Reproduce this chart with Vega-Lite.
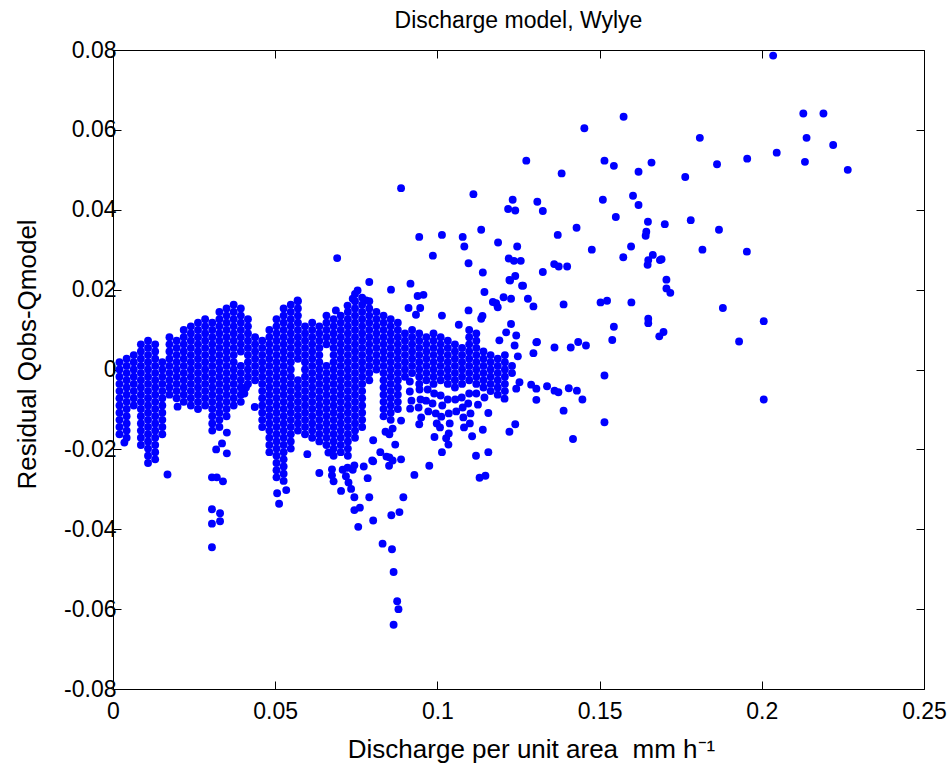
{
"$schema": "https://vega.github.io/schema/vega-lite/v6.json",
"width": 811, "height": 639,
"autosize": {"type": "none"},
"padding": {"left": 113, "top": 50, "right": 27, "bottom": 78},
"background": "white",
"title": {"text": "Discharge model, Wylye", "fontSize": 23, "font": "Liberation Sans", "fontWeight": "normal", "color": "black", "anchor": "middle", "baseline": "alphabetic", "offset": 18, "dy": 30},
"data": {"values": [
{"q":0.002,"r":-0.0162},{"q":0.002,"r":-0.0144},{"q":0.002,"r":-0.0126},{"q":0.002,"r":-0.0108},{"q":0.002,"r":-0.009},{"q":0.002,"r":-0.0072},{"q":0.002,"r":-0.0054},{"q":0.002,"r":-0.0036},{"q":0.002,"r":-0.0018},{"q":0.002,"r":0},{"q":0.002,"r":0.0018},
{"q":0.0042,"r":-0.0171},{"q":0.0042,"r":-0.0153},{"q":0.0042,"r":-0.0135},{"q":0.0042,"r":-0.0117},{"q":0.0042,"r":-0.0099},{"q":0.0042,"r":-0.0081},{"q":0.0042,"r":-0.0063},{"q":0.0042,"r":-0.0045},{"q":0.0042,"r":-0.0027},{"q":0.0042,"r":-0.0009},{"q":0.0042,"r":0.0009},{"q":0.0042,"r":0.0027},
{"q":0.0064,"r":-0.009},{"q":0.0064,"r":-0.0072},{"q":0.0064,"r":-0.0054},{"q":0.0064,"r":-0.0036},{"q":0.0064,"r":-0.0018},{"q":0.0064,"r":0},{"q":0.0064,"r":0.0018},{"q":0.0064,"r":0.0036},
{"q":0.0086,"r":-0.0189},{"q":0.0086,"r":-0.0171},{"q":0.0086,"r":-0.0153},{"q":0.0086,"r":-0.0135},{"q":0.0086,"r":-0.0117},{"q":0.0086,"r":-0.0099},{"q":0.0086,"r":-0.0081},{"q":0.0086,"r":-0.0063},{"q":0.0086,"r":-0.0045},{"q":0.0086,"r":-0.0027},{"q":0.0086,"r":-0.0009},{"q":0.0086,"r":0.0009},{"q":0.0086,"r":0.0027},{"q":0.0086,"r":0.0045},{"q":0.0086,"r":0.0063},
{"q":0.0108,"r":-0.0234},{"q":0.0108,"r":-0.0216},{"q":0.0108,"r":-0.0198},{"q":0.0108,"r":-0.018},{"q":0.0108,"r":-0.0162},{"q":0.0108,"r":-0.0144},{"q":0.0108,"r":-0.0126},{"q":0.0108,"r":-0.0108},{"q":0.0108,"r":-0.009},{"q":0.0108,"r":-0.0072},{"q":0.0108,"r":-0.0054},{"q":0.0108,"r":-0.0036},{"q":0.0108,"r":-0.0018},{"q":0.0108,"r":0},{"q":0.0108,"r":0.0018},{"q":0.0108,"r":0.0036},{"q":0.0108,"r":0.0054},{"q":0.0108,"r":0.0072},
{"q":0.013,"r":-0.0225},{"q":0.013,"r":-0.0207},{"q":0.013,"r":-0.0189},{"q":0.013,"r":-0.0171},{"q":0.013,"r":-0.0153},{"q":0.013,"r":-0.0135},{"q":0.013,"r":-0.0117},{"q":0.013,"r":-0.0099},{"q":0.013,"r":-0.0081},{"q":0.013,"r":-0.0063},{"q":0.013,"r":-0.0045},{"q":0.013,"r":-0.0027},{"q":0.013,"r":-0.0009},{"q":0.013,"r":0.0009},{"q":0.013,"r":0.0027},{"q":0.013,"r":0.0045},{"q":0.013,"r":0.0063},
{"q":0.0152,"r":-0.0162},{"q":0.0152,"r":-0.0144},{"q":0.0152,"r":-0.0126},{"q":0.0152,"r":-0.0108},{"q":0.0152,"r":-0.009},{"q":0.0152,"r":-0.0072},{"q":0.0152,"r":-0.0054},{"q":0.0152,"r":-0.0036},{"q":0.0152,"r":-0.0018},{"q":0.0152,"r":0},{"q":0.0152,"r":0.0018},
{"q":0.0174,"r":-0.0063},{"q":0.0174,"r":-0.0045},{"q":0.0174,"r":-0.0027},{"q":0.0174,"r":-0.0009},{"q":0.0174,"r":0.0009},{"q":0.0174,"r":0.0027},{"q":0.0174,"r":0.0045},{"q":0.0174,"r":0.0063},{"q":0.0174,"r":0.0081},
{"q":0.0196,"r":-0.0072},{"q":0.0196,"r":-0.0054},{"q":0.0196,"r":-0.0036},{"q":0.0196,"r":-0.0018},{"q":0.0196,"r":0},{"q":0.0196,"r":0.0018},{"q":0.0196,"r":0.0036},{"q":0.0196,"r":0.0054},{"q":0.0196,"r":0.0072},
{"q":0.0218,"r":-0.0081},{"q":0.0218,"r":-0.0063},{"q":0.0218,"r":-0.0045},{"q":0.0218,"r":-0.0027},{"q":0.0218,"r":-0.0009},{"q":0.0218,"r":0.0009},{"q":0.0218,"r":0.0027},{"q":0.0218,"r":0.0045},{"q":0.0218,"r":0.0063},{"q":0.0218,"r":0.0081},{"q":0.0218,"r":0.0099},
{"q":0.024,"r":-0.009},{"q":0.024,"r":-0.0072},{"q":0.024,"r":-0.0054},{"q":0.024,"r":-0.0036},{"q":0.024,"r":-0.0018},{"q":0.024,"r":0},{"q":0.024,"r":0.0018},{"q":0.024,"r":0.0036},{"q":0.024,"r":0.0054},{"q":0.024,"r":0.0072},{"q":0.024,"r":0.009},{"q":0.024,"r":0.0108},
{"q":0.0262,"r":-0.0099},{"q":0.0262,"r":-0.0081},{"q":0.0262,"r":-0.0063},{"q":0.0262,"r":-0.0045},{"q":0.0262,"r":-0.0027},{"q":0.0262,"r":-0.0009},{"q":0.0262,"r":0.0009},{"q":0.0262,"r":0.0027},{"q":0.0262,"r":0.0045},{"q":0.0262,"r":0.0063},{"q":0.0262,"r":0.0081},{"q":0.0262,"r":0.0099},{"q":0.0262,"r":0.0117},
{"q":0.0284,"r":-0.009},{"q":0.0284,"r":-0.0072},{"q":0.0284,"r":-0.0054},{"q":0.0284,"r":-0.0036},{"q":0.0284,"r":-0.0018},{"q":0.0284,"r":0},{"q":0.0284,"r":0.0018},{"q":0.0284,"r":0.0036},{"q":0.0284,"r":0.0054},{"q":0.0284,"r":0.0072},{"q":0.0284,"r":0.009},{"q":0.0284,"r":0.0108},{"q":0.0284,"r":0.0126},
{"q":0.0306,"r":-0.0153},{"q":0.0306,"r":-0.0135},{"q":0.0306,"r":-0.0117},{"q":0.0306,"r":-0.0099},{"q":0.0306,"r":-0.0081},{"q":0.0306,"r":-0.0063},{"q":0.0306,"r":-0.0045},{"q":0.0306,"r":-0.0027},{"q":0.0306,"r":-0.0009},{"q":0.0306,"r":0.0009},{"q":0.0306,"r":0.0027},{"q":0.0306,"r":0.0045},{"q":0.0306,"r":0.0063},{"q":0.0306,"r":0.0081},{"q":0.0306,"r":0.0099},{"q":0.0306,"r":0.0117},
{"q":0.0328,"r":-0.0144},{"q":0.0328,"r":-0.0126},{"q":0.0328,"r":-0.0108},{"q":0.0328,"r":-0.009},{"q":0.0328,"r":-0.0072},{"q":0.0328,"r":-0.0054},{"q":0.0328,"r":-0.0036},{"q":0.0328,"r":-0.0018},{"q":0.0328,"r":0},{"q":0.0328,"r":0.0018},{"q":0.0328,"r":0.0036},{"q":0.0328,"r":0.0054},{"q":0.0328,"r":0.0072},{"q":0.0328,"r":0.009},{"q":0.0328,"r":0.0108},{"q":0.0328,"r":0.0126},{"q":0.0328,"r":0.0144},
{"q":0.035,"r":-0.0117},{"q":0.035,"r":-0.0099},{"q":0.035,"r":-0.0081},{"q":0.035,"r":-0.0063},{"q":0.035,"r":-0.0045},{"q":0.035,"r":-0.0027},{"q":0.035,"r":-0.0009},{"q":0.035,"r":0.0009},{"q":0.035,"r":0.0027},{"q":0.035,"r":0.0045},{"q":0.035,"r":0.0063},{"q":0.035,"r":0.0081},{"q":0.035,"r":0.0099},{"q":0.035,"r":0.0117},{"q":0.035,"r":0.0135},{"q":0.035,"r":0.0153},
{"q":0.0372,"r":-0.009},{"q":0.0372,"r":-0.0072},{"q":0.0372,"r":-0.0054},{"q":0.0372,"r":-0.0036},{"q":0.0372,"r":-0.0018},{"q":0.0372,"r":0},{"q":0.0372,"r":0.0018},{"q":0.0372,"r":0.0036},{"q":0.0372,"r":0.0054},{"q":0.0372,"r":0.0072},{"q":0.0372,"r":0.009},{"q":0.0372,"r":0.0108},{"q":0.0372,"r":0.0126},{"q":0.0372,"r":0.0144},{"q":0.0372,"r":0.0162},
{"q":0.0394,"r":-0.0081},{"q":0.0394,"r":-0.0063},{"q":0.0394,"r":-0.0045},{"q":0.0394,"r":-0.0027},{"q":0.0394,"r":-0.0009},{"q":0.0394,"r":0.0009},{"q":0.0394,"r":0.0045},{"q":0.0394,"r":0.0063},{"q":0.0394,"r":0.0081},{"q":0.0394,"r":0.0099},{"q":0.0394,"r":0.0117},{"q":0.0394,"r":0.0135},{"q":0.0394,"r":0.0153},
{"q":0.0416,"r":-0.0036},{"q":0.0416,"r":-0.0018},{"q":0.0416,"r":0},{"q":0.0416,"r":0.0018},{"q":0.0416,"r":0.0036},{"q":0.0416,"r":0.0054},{"q":0.0416,"r":0.0072},{"q":0.0416,"r":0.009},{"q":0.0416,"r":0.0108},{"q":0.0416,"r":0.0126},
{"q":0.0438,"r":-0.0027},{"q":0.0438,"r":-0.0009},{"q":0.0438,"r":0.0009},{"q":0.0438,"r":0.0027},{"q":0.0438,"r":0.0045},{"q":0.0438,"r":0.0063},{"q":0.0438,"r":0.0081},
{"q":0.046,"r":-0.0144},{"q":0.046,"r":-0.0126},{"q":0.046,"r":-0.0108},{"q":0.046,"r":-0.009},{"q":0.046,"r":-0.0072},{"q":0.046,"r":-0.0054},{"q":0.046,"r":-0.0036},{"q":0.046,"r":-0.0018},{"q":0.046,"r":0},{"q":0.046,"r":0.0018},{"q":0.046,"r":0.0036},{"q":0.046,"r":0.0054},{"q":0.046,"r":0.0072},
{"q":0.0482,"r":-0.0207},{"q":0.0482,"r":-0.0189},{"q":0.0482,"r":-0.0171},{"q":0.0482,"r":-0.0153},{"q":0.0482,"r":-0.0135},{"q":0.0482,"r":-0.0117},{"q":0.0482,"r":-0.0099},{"q":0.0482,"r":-0.0081},{"q":0.0482,"r":-0.0063},{"q":0.0482,"r":-0.0045},{"q":0.0482,"r":-0.0027},{"q":0.0482,"r":-0.0009},{"q":0.0482,"r":0.0009},{"q":0.0482,"r":0.0027},{"q":0.0482,"r":0.0045},{"q":0.0482,"r":0.0063},{"q":0.0482,"r":0.0081},{"q":0.0482,"r":0.0099},
{"q":0.0504,"r":-0.027},{"q":0.0504,"r":-0.0252},{"q":0.0504,"r":-0.0234},{"q":0.0504,"r":-0.0216},{"q":0.0504,"r":-0.0198},{"q":0.0504,"r":-0.018},{"q":0.0504,"r":-0.0162},{"q":0.0504,"r":-0.0144},{"q":0.0504,"r":-0.0126},{"q":0.0504,"r":-0.0108},{"q":0.0504,"r":-0.009},{"q":0.0504,"r":-0.0072},{"q":0.0504,"r":-0.0054},{"q":0.0504,"r":-0.0036},{"q":0.0504,"r":-0.0018},{"q":0.0504,"r":0},{"q":0.0504,"r":0.0018},{"q":0.0504,"r":0.0036},{"q":0.0504,"r":0.0054},{"q":0.0504,"r":0.0072},{"q":0.0504,"r":0.009},{"q":0.0504,"r":0.0108},{"q":0.0504,"r":0.0126},
{"q":0.0526,"r":-0.0279},{"q":0.0526,"r":-0.0261},{"q":0.0526,"r":-0.0243},{"q":0.0526,"r":-0.0225},{"q":0.0526,"r":-0.0207},{"q":0.0526,"r":-0.0189},{"q":0.0526,"r":-0.0171},{"q":0.0526,"r":-0.0153},{"q":0.0526,"r":-0.0135},{"q":0.0526,"r":-0.0117},{"q":0.0526,"r":-0.0099},{"q":0.0526,"r":-0.0081},{"q":0.0526,"r":-0.0063},{"q":0.0526,"r":-0.0045},{"q":0.0526,"r":-0.0027},{"q":0.0526,"r":-0.0009},{"q":0.0526,"r":0.0009},{"q":0.0526,"r":0.0027},{"q":0.0526,"r":0.0045},{"q":0.0526,"r":0.0063},{"q":0.0526,"r":0.0081},{"q":0.0526,"r":0.0099},{"q":0.0526,"r":0.0117},{"q":0.0526,"r":0.0135},{"q":0.0526,"r":0.0153},
{"q":0.0548,"r":-0.0198},{"q":0.0548,"r":-0.018},{"q":0.0548,"r":-0.0162},{"q":0.0548,"r":-0.0144},{"q":0.0548,"r":-0.0126},{"q":0.0548,"r":-0.0108},{"q":0.0548,"r":-0.009},{"q":0.0548,"r":-0.0072},{"q":0.0548,"r":-0.0054},{"q":0.0548,"r":-0.0036},{"q":0.0548,"r":-0.0018},{"q":0.0548,"r":0},{"q":0.0548,"r":0.0018},{"q":0.0548,"r":0.0036},{"q":0.0548,"r":0.0054},{"q":0.0548,"r":0.0072},{"q":0.0548,"r":0.009},{"q":0.0548,"r":0.0108},{"q":0.0548,"r":0.0126},{"q":0.0548,"r":0.0144},{"q":0.0548,"r":0.0162},
{"q":0.057,"r":-0.0153},{"q":0.057,"r":-0.0135},{"q":0.057,"r":-0.0117},{"q":0.057,"r":-0.0099},{"q":0.057,"r":-0.0081},{"q":0.057,"r":-0.0063},{"q":0.057,"r":-0.0045},{"q":0.057,"r":-0.0027},{"q":0.057,"r":0.0027},{"q":0.057,"r":0.0045},{"q":0.057,"r":0.0063},{"q":0.057,"r":0.0081},{"q":0.057,"r":0.0099},{"q":0.057,"r":0.0117},{"q":0.057,"r":0.0135},{"q":0.057,"r":0.0153},{"q":0.057,"r":0.0171},
{"q":0.0592,"r":-0.0162},{"q":0.0592,"r":-0.0144},{"q":0.0592,"r":-0.0126},{"q":0.0592,"r":-0.0108},{"q":0.0592,"r":-0.009},{"q":0.0592,"r":-0.0072},{"q":0.0592,"r":-0.0054},{"q":0.0592,"r":-0.0036},{"q":0.0592,"r":-0.0018},{"q":0.0592,"r":0},{"q":0.0592,"r":0.0018},{"q":0.0592,"r":0.0036},{"q":0.0592,"r":0.0054},{"q":0.0592,"r":0.0072},{"q":0.0592,"r":0.009},{"q":0.0592,"r":0.0108},
{"q":0.0614,"r":-0.0171},{"q":0.0614,"r":-0.0153},{"q":0.0614,"r":-0.0135},{"q":0.0614,"r":-0.0117},{"q":0.0614,"r":-0.0099},{"q":0.0614,"r":-0.0081},{"q":0.0614,"r":-0.0063},{"q":0.0614,"r":-0.0045},{"q":0.0614,"r":-0.0027},{"q":0.0614,"r":-0.0009},{"q":0.0614,"r":0.0009},{"q":0.0614,"r":0.0027},{"q":0.0614,"r":0.0045},{"q":0.0614,"r":0.0063},{"q":0.0614,"r":0.0081},{"q":0.0614,"r":0.0099},{"q":0.0614,"r":0.0117},
{"q":0.0636,"r":-0.018},{"q":0.0636,"r":-0.0162},{"q":0.0636,"r":-0.0144},{"q":0.0636,"r":-0.0126},{"q":0.0636,"r":-0.0108},{"q":0.0636,"r":-0.009},{"q":0.0636,"r":-0.0072},{"q":0.0636,"r":-0.0054},{"q":0.0636,"r":-0.0036},{"q":0.0636,"r":-0.0018},{"q":0.0636,"r":0},{"q":0.0636,"r":0.0018},{"q":0.0636,"r":0.0036},{"q":0.0636,"r":0.0054},{"q":0.0636,"r":0.0072},{"q":0.0636,"r":0.009},{"q":0.0636,"r":0.0108},
{"q":0.0658,"r":-0.0189},{"q":0.0658,"r":-0.0171},{"q":0.0658,"r":-0.0153},{"q":0.0658,"r":-0.0135},{"q":0.0658,"r":-0.0117},{"q":0.0658,"r":-0.0099},{"q":0.0658,"r":-0.0081},{"q":0.0658,"r":-0.0063},{"q":0.0658,"r":-0.0045},{"q":0.0658,"r":-0.0027},{"q":0.0658,"r":-0.0009},{"q":0.0658,"r":0.0009},{"q":0.0658,"r":0.0063},{"q":0.0658,"r":0.0081},{"q":0.0658,"r":0.0099},{"q":0.0658,"r":0.0117},{"q":0.0658,"r":0.0135},
{"q":0.068,"r":-0.0216},{"q":0.068,"r":-0.0198},{"q":0.068,"r":-0.018},{"q":0.068,"r":-0.0162},{"q":0.068,"r":-0.0144},{"q":0.068,"r":-0.0126},{"q":0.068,"r":-0.0108},{"q":0.068,"r":-0.009},{"q":0.068,"r":-0.0072},{"q":0.068,"r":-0.0054},{"q":0.068,"r":-0.0036},{"q":0.068,"r":-0.0018},{"q":0.068,"r":0},{"q":0.068,"r":0.0018},{"q":0.068,"r":0.0036},{"q":0.068,"r":0.0054},{"q":0.068,"r":0.0072},{"q":0.068,"r":0.009},{"q":0.068,"r":0.0108},{"q":0.068,"r":0.0126},
{"q":0.0702,"r":-0.0207},{"q":0.0702,"r":-0.0189},{"q":0.0702,"r":-0.0171},{"q":0.0702,"r":-0.0153},{"q":0.0702,"r":-0.0135},{"q":0.0702,"r":-0.0117},{"q":0.0702,"r":-0.0099},{"q":0.0702,"r":-0.0081},{"q":0.0702,"r":-0.0063},{"q":0.0702,"r":-0.0045},{"q":0.0702,"r":-0.0027},{"q":0.0702,"r":-0.0009},{"q":0.0702,"r":0.0009},{"q":0.0702,"r":0.0027},{"q":0.0702,"r":0.0045},{"q":0.0702,"r":0.0063},{"q":0.0702,"r":0.0081},{"q":0.0702,"r":0.0099},{"q":0.0702,"r":0.0117},{"q":0.0702,"r":0.0135},
{"q":0.0724,"r":-0.0216},{"q":0.0724,"r":-0.0198},{"q":0.0724,"r":-0.018},{"q":0.0724,"r":-0.0162},{"q":0.0724,"r":-0.0144},{"q":0.0724,"r":-0.0126},{"q":0.0724,"r":-0.0108},{"q":0.0724,"r":-0.009},{"q":0.0724,"r":-0.0072},{"q":0.0724,"r":-0.0054},{"q":0.0724,"r":-0.0036},{"q":0.0724,"r":-0.0018},{"q":0.0724,"r":0},{"q":0.0724,"r":0.0018},{"q":0.0724,"r":0.0036},{"q":0.0724,"r":0.0054},{"q":0.0724,"r":0.0072},{"q":0.0724,"r":0.009},{"q":0.0724,"r":0.0108},{"q":0.0724,"r":0.0126},{"q":0.0724,"r":0.0144},
{"q":0.0746,"r":-0.0171},{"q":0.0746,"r":-0.0153},{"q":0.0746,"r":-0.0135},{"q":0.0746,"r":-0.0117},{"q":0.0746,"r":-0.0099},{"q":0.0746,"r":-0.0081},{"q":0.0746,"r":-0.0063},{"q":0.0746,"r":-0.0045},{"q":0.0746,"r":-0.0027},{"q":0.0746,"r":-0.0009},{"q":0.0746,"r":0.0009},{"q":0.0746,"r":0.0027},{"q":0.0746,"r":0.0045},{"q":0.0746,"r":0.0063},{"q":0.0746,"r":0.0081},{"q":0.0746,"r":0.0099},{"q":0.0746,"r":0.0117},{"q":0.0746,"r":0.0135},{"q":0.0746,"r":0.0153},{"q":0.0746,"r":0.0171},{"q":0.0746,"r":0.0189},
{"q":0.0768,"r":-0.0144},{"q":0.0768,"r":-0.0126},{"q":0.0768,"r":-0.0108},{"q":0.0768,"r":-0.009},{"q":0.0768,"r":-0.0072},{"q":0.0768,"r":-0.0054},{"q":0.0768,"r":-0.0036},{"q":0.0768,"r":-0.0018},{"q":0.0768,"r":0},{"q":0.0768,"r":0.0018},{"q":0.0768,"r":0.0036},{"q":0.0768,"r":0.0054},{"q":0.0768,"r":0.0072},{"q":0.0768,"r":0.009},{"q":0.0768,"r":0.0108},{"q":0.0768,"r":0.0126},{"q":0.0768,"r":0.0144},{"q":0.0768,"r":0.0162},{"q":0.0768,"r":0.018},
{"q":0.079,"r":-0.0027},{"q":0.079,"r":-0.0009},{"q":0.079,"r":0.0009},{"q":0.079,"r":0.0027},{"q":0.079,"r":0.0045},{"q":0.079,"r":0.0063},{"q":0.079,"r":0.0081},{"q":0.079,"r":0.0099},{"q":0.079,"r":0.0117},{"q":0.079,"r":0.0135},{"q":0.079,"r":0.0153},{"q":0.079,"r":0.0171},
{"q":0.0812,"r":0},{"q":0.0812,"r":0.0018},{"q":0.0812,"r":0.0036},{"q":0.0812,"r":0.0054},{"q":0.0812,"r":0.0072},{"q":0.0812,"r":0.009},{"q":0.0812,"r":0.0108},{"q":0.0812,"r":0.0126},{"q":0.0812,"r":0.0144},
{"q":0.0834,"r":-0.0117},{"q":0.0834,"r":-0.0099},{"q":0.0834,"r":-0.0081},{"q":0.0834,"r":-0.0063},{"q":0.0834,"r":-0.0045},{"q":0.0834,"r":-0.0027},{"q":0.0834,"r":-0.0009},{"q":0.0834,"r":0.0009},{"q":0.0834,"r":0.0027},{"q":0.0834,"r":0.0045},{"q":0.0834,"r":0.0063},{"q":0.0834,"r":0.0081},{"q":0.0834,"r":0.0099},{"q":0.0834,"r":0.0117},{"q":0.0834,"r":0.0135},
{"q":0.0856,"r":-0.0126},{"q":0.0856,"r":-0.0108},{"q":0.0856,"r":-0.009},{"q":0.0856,"r":-0.0072},{"q":0.0856,"r":-0.0054},{"q":0.0856,"r":-0.0036},{"q":0.0856,"r":-0.0018},{"q":0.0856,"r":0},{"q":0.0856,"r":0.0018},{"q":0.0856,"r":0.0036},{"q":0.0856,"r":0.0054},{"q":0.0856,"r":0.0072},{"q":0.0856,"r":0.009},{"q":0.0856,"r":0.0108},{"q":0.0856,"r":0.0126},
{"q":0.0878,"r":-0.0099},{"q":0.0878,"r":-0.0081},{"q":0.0878,"r":-0.0063},{"q":0.0878,"r":-0.0045},{"q":0.0878,"r":-0.0027},{"q":0.0878,"r":-0.0009},{"q":0.0878,"r":0.0009},{"q":0.0878,"r":0.0027},{"q":0.0878,"r":0.0045},{"q":0.0878,"r":0.0063},{"q":0.0878,"r":0.0081},{"q":0.0878,"r":0.0099},{"q":0.0878,"r":0.0117},
{"q":0.09,"r":-0.0018},{"q":0.09,"r":0},{"q":0.09,"r":0.0018},{"q":0.09,"r":0.0036},{"q":0.09,"r":0.0054},{"q":0.09,"r":0.0072},{"q":0.09,"r":0.009},
{"q":0.0922,"r":-0.0009},{"q":0.0922,"r":0.0009},{"q":0.0922,"r":0.0027},{"q":0.0922,"r":0.0045},{"q":0.0922,"r":0.0063},{"q":0.0922,"r":0.0081},{"q":0.0922,"r":0.0099},
{"q":0.0944,"r":-0.0036},{"q":0.0944,"r":-0.0018},{"q":0.0944,"r":0},{"q":0.0944,"r":0.0018},{"q":0.0944,"r":0.0036},{"q":0.0944,"r":0.0054},{"q":0.0944,"r":0.0072},{"q":0.0944,"r":0.009},
{"q":0.0966,"r":-0.0027},{"q":0.0966,"r":-0.0009},{"q":0.0966,"r":0.0009},{"q":0.0966,"r":0.0027},{"q":0.0966,"r":0.0045},{"q":0.0966,"r":0.0063},{"q":0.0966,"r":0.0081},
{"q":0.0988,"r":-0.0036},{"q":0.0988,"r":-0.0018},{"q":0.0988,"r":0},{"q":0.0988,"r":0.0018},{"q":0.0988,"r":0.0036},{"q":0.0988,"r":0.0054},{"q":0.0988,"r":0.0072},{"q":0.0988,"r":0.009},
{"q":0.101,"r":-0.0027},{"q":0.101,"r":-0.0009},{"q":0.101,"r":0.0009},{"q":0.101,"r":0.0027},{"q":0.101,"r":0.0045},{"q":0.101,"r":0.0063},{"q":0.101,"r":0.0081},
{"q":0.1032,"r":-0.0036},{"q":0.1032,"r":-0.0018},{"q":0.1032,"r":0},{"q":0.1032,"r":0.0018},{"q":0.1032,"r":0.0036},{"q":0.1032,"r":0.0054},{"q":0.1032,"r":0.0072},
{"q":0.1054,"r":-0.0045},{"q":0.1054,"r":-0.0027},{"q":0.1054,"r":-0.0009},{"q":0.1054,"r":0.0009},{"q":0.1054,"r":0.0027},{"q":0.1054,"r":0.0045},{"q":0.1054,"r":0.0063},
{"q":0.1076,"r":-0.0036},{"q":0.1076,"r":-0.0018},{"q":0.1076,"r":0},{"q":0.1076,"r":0.0018},{"q":0.1076,"r":0.0036},{"q":0.1076,"r":0.0054},
{"q":0.1098,"r":-0.0027},{"q":0.1098,"r":-0.0009},{"q":0.1098,"r":0.0009},{"q":0.1098,"r":0.0027},{"q":0.1098,"r":0.0045},{"q":0.1098,"r":0.0063},{"q":0.1098,"r":0.0081},{"q":0.1098,"r":0.0099},
{"q":0.112,"r":-0.0036},{"q":0.112,"r":-0.0018},{"q":0.112,"r":0},{"q":0.112,"r":0.0018},{"q":0.112,"r":0.0036},{"q":0.112,"r":0.0054},{"q":0.112,"r":0.0072},{"q":0.112,"r":0.009},
{"q":0.1142,"r":-0.0045},{"q":0.1142,"r":-0.0027},{"q":0.1142,"r":-0.0009},{"q":0.1142,"r":0.0009},{"q":0.1142,"r":0.0027},{"q":0.1142,"r":0.0045},
{"q":0.1164,"r":-0.0054},{"q":0.1164,"r":-0.0036},{"q":0.1164,"r":-0.0018},{"q":0.1164,"r":0},{"q":0.1164,"r":0.0018},{"q":0.1164,"r":0.0036},
{"q":0.1186,"r":-0.0063},{"q":0.1186,"r":-0.0045},{"q":0.1186,"r":-0.0027},{"q":0.1186,"r":-0.0009},{"q":0.1186,"r":0.0009},{"q":0.1186,"r":0.0027},
{"q":0.1208,"r":-0.0054},{"q":0.1208,"r":-0.0036},{"q":0.1208,"r":-0.0018},{"q":0.1208,"r":0},{"q":0.1208,"r":0.0018},{"q":0.1208,"r":0.0036},
{"q":0.123,"r":-0.0009},{"q":0.123,"r":0.0009},
{"q":0.0035,"r":-0.0183},{"q":0.0168,"r":-0.0263},{"q":0.0199,"r":-0.0093},{"q":0.0318,"r":-0.02},{"q":0.0336,"r":-0.0185},{"q":0.0351,"r":-0.021},{"q":0.0351,"r":-0.0158},{"q":0.0305,"r":-0.027},{"q":0.032,"r":-0.027},{"q":0.0339,"r":-0.028},{"q":0.0305,"r":-0.035},{"q":0.033,"r":-0.036},{"q":0.0305,"r":-0.0386},{"q":0.033,"r":-0.038},{"q":0.0305,"r":-0.0445},{"q":0.0437,"r":-0.0094},{"q":0.041,"r":-0.0045},{"q":0.0405,"r":-0.006},{"q":0.0506,"r":-0.031},{"q":0.0512,"r":-0.0336},{"q":0.0534,"r":-0.0302},
{"q":0.0599,"r":-0.0212},{"q":0.0636,"r":-0.0259},{"q":0.0664,"r":-0.0208},{"q":0.0675,"r":-0.025},{"q":0.0675,"r":-0.0265},{"q":0.068,"r":-0.028},{"q":0.0703,"r":-0.0304},{"q":0.0708,"r":-0.0251},{"q":0.0723,"r":-0.0246},{"q":0.0739,"r":-0.0251},{"q":0.0744,"r":-0.024},{"q":0.0718,"r":-0.0267},{"q":0.0726,"r":-0.0283},{"q":0.0734,"r":-0.0299},{"q":0.0744,"r":-0.032},{"q":0.0744,"r":-0.0352},{"q":0.0761,"r":-0.0346},{"q":0.0756,"r":-0.0394},{"q":0.079,"r":-0.032},{"q":0.0802,"r":-0.0378},{"q":0.0785,"r":-0.0272},{"q":0.0773,"r":-0.0243},{"q":0.0802,"r":-0.023},{"q":0.0831,"r":-0.0436},{"q":0.086,"r":-0.045},{"q":0.0858,"r":-0.0365},{"q":0.0883,"r":-0.0357},{"q":0.0895,"r":-0.032},{"q":0.0865,"r":-0.0507},{"q":0.0876,"r":-0.058},{"q":0.088,"r":-0.06},{"q":0.0865,"r":-0.0639},
{"q":0.0929,"r":-0.0264},{"q":0.0975,"r":-0.0241},{"q":0.0888,"r":-0.0225},{"q":0.0851,"r":-0.0241},{"q":0.0843,"r":-0.0218},{"q":0.0824,"r":-0.0207},{"q":0.087,"r":-0.0188},{"q":0.0852,"r":-0.0162},{"q":0.084,"r":-0.0156},{"q":0.0802,"r":-0.0177},{"q":0.0799,"r":-0.0228},{"q":0.0852,"r":-0.022},{"q":0.0888,"r":-0.0128},{"q":0.0944,"r":-0.0137},{"q":0.0991,"r":-0.0169},{"q":0.1014,"r":-0.0207},{"q":0.1034,"r":-0.0188},{"q":0.1027,"r":-0.0172},{"q":0.1119,"r":-0.0216},{"q":0.113,"r":-0.0271},{"q":0.1148,"r":-0.0266},{"q":0.1157,"r":-0.0207},{"q":0.1107,"r":-0.0167},{"q":0.114,"r":-0.0151},{"q":0.1222,"r":-0.0156},{"q":0.124,"r":-0.0137},{"q":0.1157,"r":-0.0109},{"q":0.0862,"r":-0.0148},{"q":0.0862,"r":-0.0228},{"q":0.0916,"r":-0.0098},
{"q":0.0915,"r":-0.003},{"q":0.0915,"r":-0.0055},{"q":0.092,"r":-0.0078},{"q":0.0945,"r":-0.005},{"q":0.0948,"r":-0.0075},{"q":0.0942,"r":-0.0095},{"q":0.095,"r":-0.012},{"q":0.097,"r":-0.005},{"q":0.0965,"r":-0.0078},{"q":0.0972,"r":-0.0105},{"q":0.099,"r":-0.006},{"q":0.0985,"r":-0.0085},{"q":0.0995,"r":-0.011},{"q":0.0998,"r":-0.0135},{"q":0.101,"r":-0.0065},{"q":0.1015,"r":-0.009},{"q":0.1012,"r":-0.0118},{"q":0.1008,"r":-0.0145},{"q":0.1032,"r":-0.0075},{"q":0.1035,"r":-0.011},{"q":0.1038,"r":-0.0135},{"q":0.1035,"r":-0.016},{"q":0.1055,"r":-0.0075},{"q":0.1058,"r":-0.0105},{"q":0.1075,"r":-0.007},{"q":0.1078,"r":-0.0095},{"q":0.108,"r":-0.012},{"q":0.1082,"r":-0.0145},{"q":0.1098,"r":-0.006},{"q":0.1095,"r":-0.0085},{"q":0.1102,"r":-0.011},{"q":0.11,"r":-0.0135},{"q":0.112,"r":-0.006},{"q":0.1125,"r":-0.0088},{"q":0.1145,"r":-0.007},
{"q":0.1207,"r":-0.0073},{"q":0.1253,"r":-0.0032},{"q":0.1243,"r":-0.0048},{"q":0.1289,"r":-0.0038},{"q":0.1305,"r":-0.0048},{"q":0.1305,"r":-0.0076},{"q":0.1338,"r":-0.0042},{"q":0.1361,"r":-0.0053},{"q":0.1373,"r":-0.0057},{"q":0.1405,"r":-0.0047},{"q":0.143,"r":-0.0053},{"q":0.1447,"r":-0.0075},{"q":0.1389,"r":-0.0103},{"q":0.1515,"r":-0.0132},{"q":0.1418,"r":-0.0174},{"q":0.1515,"r":-0.0015},
{"q":0.079,"r":0.0219},{"q":0.0857,"r":0.02},{"q":0.0754,"r":0.0198},{"q":0.0739,"r":0.0177},{"q":0.078,"r":0.0173},{"q":0.0723,"r":0.016},{"q":0.0687,"r":0.0148},{"q":0.0569,"r":0.0173},{"q":0.0917,"r":0.0215},{"q":0.0939,"r":0.0184},{"q":0.0957,"r":0.0187},{"q":0.0911,"r":0.0154},{"q":0.0947,"r":0.0154},{"q":0.0934,"r":0.0137},{"q":0.1014,"r":0.0135},{"q":0.1096,"r":0.0148},{"q":0.1066,"r":0.0112},{"q":0.1145,"r":0.0194},{"q":0.1171,"r":0.0169},{"q":0.1186,"r":0.0156},{"q":0.1204,"r":0.0181},{"q":0.1227,"r":0.0177},{"q":0.1224,"r":0.0223},{"q":0.1261,"r":0.021},{"q":0.1279,"r":0.0177},{"q":0.1296,"r":0.0158},{"q":0.1135,"r":0.0127},{"q":0.1139,"r":0.0134},{"q":0.1227,"r":0.0114},{"q":0.1212,"r":0.0093},{"q":0.1191,"r":0.0073},{"q":0.1243,"r":0.0085},{"q":0.1238,"r":0.006},{"q":0.1248,"r":0.0033},{"q":0.1305,"r":0.0068},{"q":0.1296,"r":0.0041},{"q":0.1181,"r":0.0166},
{"q":0.1389,"r":0.0163},{"q":0.1503,"r":0.0168},{"q":0.1523,"r":0.0172},{"q":0.1598,"r":0.0168},{"q":0.1307,"r":0.0069},{"q":0.1361,"r":0.0055},{"q":0.1411,"r":0.0055},{"q":0.1434,"r":0.0069},{"q":0.1458,"r":0.006},{"q":0.1544,"r":0.0107},{"q":0.1539,"r":0.0074},{"q":0.165,"r":0.0127},{"q":0.165,"r":0.0116},{"q":0.1684,"r":0.0083},{"q":0.1697,"r":0.0094},{"q":0.188,"r":0.0154},{"q":0.2006,"r":0.0121},{"q":0.193,"r":0.007},{"q":0.2006,"r":-0.0075},
{"q":0.0888,"r":0.0454},{"q":0.1111,"r":0.0439},{"q":0.1135,"r":0.035},{"q":0.0944,"r":0.0332},{"q":0.1014,"r":0.0337},{"q":0.1078,"r":0.0332},{"q":0.1083,"r":0.0308},{"q":0.0986,"r":0.0285},{"q":0.1096,"r":0.0266},{"q":0.114,"r":0.0243},{"q":0.0691,"r":0.0279},
{"q":0.1574,"r":0.0633},{"q":0.1453,"r":0.0604},{"q":0.1809,"r":0.058},{"q":0.1274,"r":0.0523},{"q":0.1515,"r":0.0523},{"q":0.1544,"r":0.051},{"q":0.1383,"r":0.0491},{"q":0.162,"r":0.0495},{"q":0.166,"r":0.0518},{"q":0.1764,"r":0.0482},{"q":0.1862,"r":0.0514},{"q":0.1232,"r":0.0425},{"q":0.1308,"r":0.042},{"q":0.1218,"r":0.0402},{"q":0.124,"r":0.0398},{"q":0.1325,"r":0.0397},{"q":0.151,"r":0.0425},{"q":0.1603,"r":0.0435},{"q":0.162,"r":0.0412},{"q":0.155,"r":0.0382},{"q":0.1429,"r":0.0355},{"q":0.1371,"r":0.0337},{"q":0.1649,"r":0.037},{"q":0.1644,"r":0.0345},{"q":0.1642,"r":0.0335},{"q":0.1701,"r":0.0364},{"q":0.1781,"r":0.0374},{"q":0.1868,"r":0.035},
{"q":0.1187,"r":0.0318},{"q":0.1246,"r":0.0308},{"q":0.1476,"r":0.03},{"q":0.1597,"r":0.0308},{"q":0.1573,"r":0.0281},{"q":0.1817,"r":0.03},{"q":0.1954,"r":0.0295},{"q":0.122,"r":0.0278},{"q":0.1236,"r":0.0272},{"q":0.1257,"r":0.0272},{"q":0.136,"r":0.0264},{"q":0.1374,"r":0.0258},{"q":0.14,"r":0.0258},{"q":0.165,"r":0.0274},{"q":0.1648,"r":0.0262},{"q":0.1664,"r":0.0287},{"q":0.1686,"r":0.0274},{"q":0.1691,"r":0.0276},{"q":0.1325,"r":0.0244},{"q":0.1222,"r":0.0224},{"q":0.124,"r":0.0234},{"q":0.1264,"r":0.021},{"q":0.1706,"r":0.0225},{"q":0.1706,"r":0.0203},{"q":0.1718,"r":0.0192},
{"q":0.2035,"r":0.0786},{"q":0.2128,"r":0.0641},{"q":0.219,"r":0.0641},{"q":0.2138,"r":0.058},{"q":0.222,"r":0.0562},{"q":0.2046,"r":0.0543},{"q":0.1955,"r":0.0528},{"q":0.2133,"r":0.052},{"q":0.2265,"r":0.05}
]},
"layer": [
{
"mark": {"type": "point", "filled": true, "color": "#0000ff", "opacity": 1, "size": 62, "strokeWidth": 0},
"encoding": {
"x": {"field": "q", "type": "quantitative", "scale": {"domain": [0, 0.25], "nice": false, "zero": false},
 "axis": {"orient": "bottom", "values": [0, 0.05, 0.1, 0.15, 0.2, 0.25], "labelExpr": "format(datum.value, '.2~f')", "title": "Discharge per unit area\u00a0 mm h⁻¹", "titleX": 418, "titleY": 68, "titleAlign": "center", "titleBaseline": "alphabetic", "labelPadding": 19, "labelBaseline": "top"}},
"y": {"field": "r", "type": "quantitative", "scale": {"domain": [-0.08, 0.08], "nice": false, "zero": false},
 "axis": {"orient": "left", "values": [-0.08, -0.06, -0.04, -0.02, 0, 0.02, 0.04, 0.06, 0.08], "labelExpr": "(datum.value < 0 ? '-' : '') + format(abs(datum.value), '.2~f')", "title": "Residual Qobs-Qmodel", "titleX": -78, "titleY": 304, "titleAlign": "center", "titleBaseline": "alphabetic", "titleAngle": -90, "labelPadding": 5}}
}
},
{
"mark": {"type": "point", "opacity": 0},
"encoding": {
"x": {"field": "q", "type": "quantitative", "axis": {"orient": "top", "values": [0, 0.05, 0.1, 0.15, 0.2, 0.25], "labels": false, "title": null}},
"y": {"field": "r", "type": "quantitative", "axis": {"orient": "right", "values": [-0.08, -0.06, -0.04, -0.02, 0, 0.02, 0.04, 0.06, 0.08], "labels": false, "title": null}}
}
}
],
"resolve": {"axis": {"x": "independent", "y": "independent"}},
"config": {
"view": {"stroke": null},
"axis": {"grid": false, "domainColor": "black", "domainWidth": 1, "tickColor": "black", "tickWidth": 1, "tickSize": -8, "labelColor": "black", "titleColor": "black", "labelFont": "Liberation Sans", "titleFont": "Liberation Sans", "labelFontSize": 23, "titleFontSize": 26, "titleFontWeight": "normal", "labelFlush": false, "labelOverlap": false}
}
}
